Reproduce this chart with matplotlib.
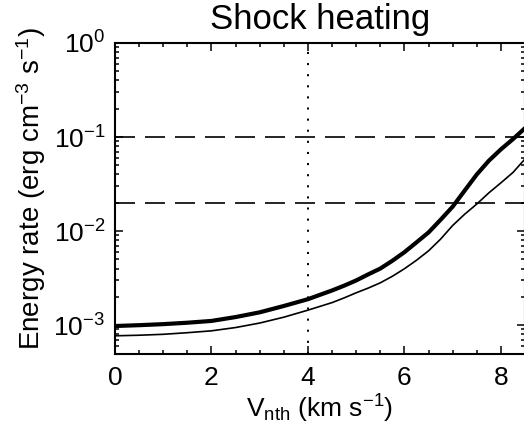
import numpy as np
import matplotlib
matplotlib.use("Agg")
import matplotlib.pyplot as plt
from matplotlib.ticker import LogLocator, MultipleLocator, NullFormatter

plt.rcParams['font.family'] = ['Liberation Sans', 'DejaVu Sans']
plt.rcParams['mathtext.fontset'] = 'custom'
plt.rcParams['mathtext.rm'] = 'Liberation Sans'
plt.rcParams['mathtext.it'] = 'Liberation Sans:italic'
plt.rcParams['lines.scale_dashes'] = False

# Data
v_nth = [0, 0.5, 1, 1.5, 2, 2.5, 3, 3.5, 4, 4.5, 4.75, 5, 5.25, 5.5, 5.75,
         6, 6.25, 6.5, 6.75, 7, 7.25, 7.5, 7.75, 8, 8.25, 8.5]
rate_thick = [9.8e-4, 1.0e-3, 1.026e-3, 1.062e-3, 1.11e-3, 1.22e-3, 1.37e-3, 1.6e-3, 1.89e-3,
              2.34e-3, 2.63e-3, 2.99e-3, 3.47e-3, 4.0e-3, 4.84e-3, 5.97e-3, 7.59e-3, 9.68e-3,
              0.0132, 0.0182, 0.0270, 0.0400, 0.0560, 0.0740, 0.0950, 0.1245]
rate_thin = [7.71e-4, 7.82e-4, 8.0e-4, 8.32e-4, 8.71e-4, 9.44e-4, 1.054e-3, 1.216e-3, 1.445e-3,
             1.738e-3, 1.95e-3, 2.21e-3, 2.48e-3, 2.82e-3, 3.31e-3, 3.98e-3, 4.9e-3, 6.17e-3,
             8.22e-3, 0.01148, 0.01514, 0.0194, 0.0255, 0.0326, 0.0420, 0.0585]
h_levels = [0.1, 0.02]
v_line = 4
x_ticks = [0, 2, 4, 6, 8]

fig = plt.figure(figsize=(5.24, 4.36), dpi=100)
ax = fig.add_axes([115/524, (436-353.5)/436, 410/524, 310.5/436])

ax.plot(v_nth, rate_thick, color='black', lw=3.0, solid_joinstyle='round')
ax.plot(v_nth, rate_thin, color='black', lw=1.2, solid_joinstyle='round')
for h in h_levels:
    ax.axhline(h, color='black', lw=1.2, dashes=(14.4, 7.2))
ax.axvline(v_line, color='black', lw=1.4, dashes=(1.5, 6.5))

ax.set_yscale('log')
ax.set_xlim(0, 8.5)
ax.set_ylim(5e-4, 1)
ax.set_xticks(x_ticks)
ax.xaxis.set_minor_locator(MultipleLocator(0.5))
ax.yaxis.set_major_locator(LogLocator(base=10, numticks=10))
ax.yaxis.set_minor_locator(LogLocator(base=10, subs=np.arange(2, 10), numticks=20))
ax.yaxis.set_minor_formatter(NullFormatter())

ax.tick_params(which='both', direction='in', top=True, right=True, width=1.1, color='black')
ax.tick_params(which='major', length=6, labelsize=19)
ax.tick_params(which='minor', length=3)
ax.tick_params(axis='x', which='major', pad=9)
ax.tick_params(axis='y', which='major', pad=7)
for s in ax.spines.values():
    s.set_linewidth(1.5)

ax.set_title('Shock heating', fontsize=25, pad=10)
ax.set_xlabel(r'V$_{\rm nth}$ (km s$^{-1}$)', fontsize=19, labelpad=2)
ax.set_ylabel(r'Energy rate (erg cm$^{-3}$ s$^{-1}$)', fontsize=20)
ax.yaxis.set_label_coords(-0.163, 0.531)

fig.savefig('out.png', dpi=100)
